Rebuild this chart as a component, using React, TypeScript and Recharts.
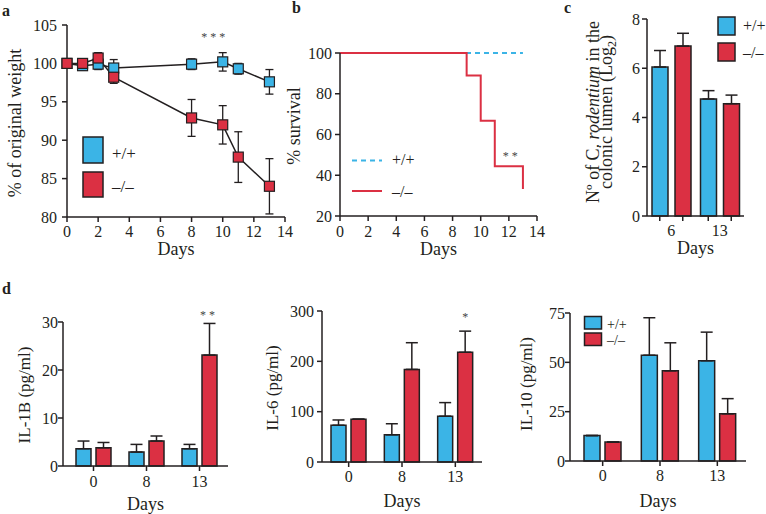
import React from 'react';
import { LineChart, Line, BarChart, Bar, XAxis, YAxis, ErrorBar, ReferenceDot } from 'recharts';

const FONT = '"Liberation Serif", "Times New Roman", serif';
const INK = '#231f20';
const BLUE = '#3bb4e6';
const RED = '#db3043';
const SIG = '#444444';

// ---------- Panel a: body weight ----------
const weightDays = [0, 1, 2, 3, 8, 10, 11, 13];
const weightWT = [100, 99.7, 99.9, 99.4, 99.9, 100.2, 99.3, 97.6];
const weightWTErr = [0.3, 0.6, 0.7, 1.1, 0.7, 1.2, 0.7, 1.6];
const weightKO = [100, 100, 100.7, 98.2, 92.9, 92.0, 87.8, 84.0];
const weightKOErr = [0.3, 0.5, 0.7, 0.8, 2.4, 2.5, 3.3, 3.6];
const weightTicksX = [0, 2, 4, 6, 8, 10, 12, 14];
const weightTicksY = [80, 85, 90, 95, 100, 105];
const weightSig = { day: 9.4, value: 103.7, text: '* * *' };

// ---------- Panel b: survival ----------
const survWTDays = [0, 13];
const survWT = [100, 100];
const survKODays = [0, 9, 10, 11, 13];
const survKO = [100, 88.9, 66.7, 44.4, 33.3];
const survTicksX = [0, 2, 4, 6, 8, 10, 12, 14];
const survTicksY = [20, 40, 60, 80, 100];
const survSig = { day: 12.1, value: 50.4, text: '* *' };

// ---------- Panel c: C. rodentium load ----------
const cDays = ['6', '13'];
const cWT = [6.05, 4.75];
const cWTErr = [0.67, 0.34];
const cKO = [6.9, 4.56];
const cKOErr = [0.52, 0.35];
const cTicksY = [0, 2, 4, 6, 8];

// ---------- Panel d: cytokines ----------
const cytoDays = ['0', '8', '13'];
const il1bWT = [3.6, 2.9, 3.6];
const il1bWTErr = [1.6, 1.6, 0.9];
const il1bKO = [3.8, 5.2, 23.1];
const il1bKOErr = [1.1, 1.05, 6.6];
const il1bTicks = [0, 10, 20, 30];

const il6WT = [73, 54, 91];
const il6WTErr = [10.5, 22, 27];
const il6KO = [85, 184, 218];
const il6KOErr = [0, 53, 42];
const il6Ticks = [0, 100, 200, 300];

const il10WT = [12.9, 53.6, 50.8];
const il10WTErr = [0, 19, 14.5];
const il10KO = [9.6, 45.7, 23.9];
const il10KOErr = [0, 14.2, 7.7];
const il10Ticks = [0, 25, 50, 75];

const axisStyle = (margin: number) => ({
  stroke: INK,
  strokeWidth: 1.5,
  tickSize: 5,
  tickMargin: margin,
  tick: { fill: INK, fontSize: 16, fontFamily: FONT },
  tickLine: { stroke: INK, strokeWidth: 1.5 },
  axisLine: { stroke: INK, strokeWidth: 1.5 },
});

const textStyle = { fontFamily: FONT, fill: INK };

const xLabel = (x: number, y: number) => ({
  content: () => (
    <text x={x} y={y} textAnchor="middle" fontSize={18} style={textStyle}>
      Days
    </text>
  ),
});

const yLabel = (x: number, y: number, txt: string, size = 18) => ({
  content: () => (
    <text x={x} y={y} transform={`rotate(-90 ${x} ${y})`} textAnchor="middle" fontSize={size} style={textStyle}>
      {txt}
    </text>
  ),
});

const squareDot = (fill: string) => (props: any) => {
  const { cx, cy, index } = props;
  if (cx == null || cy == null) return <g key={`e-${index}`} />;
  return (
    <rect key={`sq-${fill}-${index}`} x={cx - 5} y={cy - 5} width={10} height={10} fill={fill} stroke={INK} strokeWidth={1.2} />
  );
};

const sigShape = (text: string, dx: number, size: number) => (p: any) => (
  <text x={p.cx + dx} y={p.cy} dy={size * 0.5} textAnchor="middle" fontSize={size} style={{ fontFamily: FONT, fill: SIG }}>
    {text}
  </text>
);

const weightRows = weightDays.map((d, i) => ({
  day: d,
  wt: weightWT[i],
  wtErr: weightWTErr[i],
  ko: weightKO[i],
  koErr: weightKOErr[i],
}));

function PanelA() {
  return (
    <LineChart width={300} height={265} data={weightRows} margin={{ top: 25, right: 15, bottom: 0, left: 0 }}>
      <XAxis type="number" dataKey="day" domain={[0, 14]} ticks={weightTicksX} interval={0} height={48} {...axisStyle(4)} label={xLabel(176, 255)} />
      <YAxis type="number" domain={[80, 105]} ticks={weightTicksY} interval={0} width={67} {...axisStyle(5)} label={yLabel(21, 123, '% of original weight')} />
      <Line type="linear" dataKey="wt" stroke={INK} strokeWidth={1.5} dot={squareDot(BLUE)} activeDot={false} isAnimationActive={false}>
        <ErrorBar dataKey="wtErr" width={4} stroke={INK} strokeWidth={1.3} direction="y" />
      </Line>
      <Line type="linear" dataKey="ko" stroke={INK} strokeWidth={1.5} dot={squareDot(RED)} activeDot={false} isAnimationActive={false}>
        <ErrorBar dataKey="koErr" width={4} stroke={INK} strokeWidth={1.3} direction="y" />
      </Line>
      <ReferenceDot x={weightSig.day} y={weightSig.value} r={0} ifOverflow="visible" shape={sigShape(weightSig.text, 0, 12)} />
    </LineChart>
  );
}

const survWTRows = survWTDays.map((d, i) => ({ day: d, pct: survWT[i] }));
const survKORows = survKODays.map((d, i) => ({ day: d, pct: survKO[i] }));

function PanelB() {
  return (
    <LineChart width={300} height={265} margin={{ top: 53, right: 18, bottom: 0, left: 0 }}>
      <XAxis type="number" dataKey="day" domain={[0, 14]} ticks={survTicksX} interval={0} height={49} {...axisStyle(5)} label={xLabel(183.5, 255)} />
      <YAxis type="number" domain={[20, 100]} ticks={survTicksY} interval={0} width={85} {...axisStyle(3)} label={yLabel(45, 126, '% survival')} />
      <Line data={survWTRows} type="linear" dataKey="pct" stroke={BLUE} strokeWidth={2} strokeDasharray="5 4" dot={false} activeDot={false} isAnimationActive={false} />
      <Line data={survKORows} type="stepAfter" dataKey="pct" stroke={RED} strokeWidth={2} dot={false} activeDot={false} isAnimationActive={false} />
      <ReferenceDot x={survSig.day} y={survSig.value} r={0} ifOverflow="visible" shape={sigShape(survSig.text, 0, 12)} />
    </LineChart>
  );
}

const cRows = cDays.map((d, i) => ({
  day: d,
  wt: cWT[i],
  wtErr: [0, cWTErr[i]],
  ko: cKO[i],
  koErr: [0, cKOErr[i]],
}));

const CTick = (props: any) => {
  const { x, y, payload } = props;
  return (
    <g>
      <line x1={x - 11.5} x2={x - 11.5} y1={y - 9} y2={y - 4} stroke={INK} strokeWidth={1.5} />
      <line x1={x + 11.5} x2={x + 11.5} y1={y - 9} y2={y - 4} stroke={INK} strokeWidth={1.5} />
      <text x={x} y={y} dy="0.71em" textAnchor="middle" fontSize={16} style={textStyle}>
        {payload.value}
      </text>
    </g>
  );
};

function PanelC() {
  return (
    <BarChart width={221} height={265} data={cRows} barGap={7} margin={{ top: 19, right: 22, bottom: 0, left: 0 }}>
      <XAxis dataKey="day" height={49} {...axisStyle(4)} tickLine={false} tick={<CTick />} interval={0}
        label={xLabel(150.5, 254)} />
      <YAxis type="number" domain={[0, 8]} ticks={cTicksY} interval={0} width={102} {...axisStyle(2)}
        label={{
          content: () => (
            <g>
              <text x={54} y={112} transform="rotate(-90 54 112)" textAnchor="middle" fontSize={18} style={textStyle}>
                {'N\u00BA of C. '}<tspan fontStyle="italic">rodentium</tspan>{' in the'}
              </text>
              <text x={67} y={112} transform="rotate(-90 67 112)" textAnchor="middle" fontSize={18} style={textStyle}>
                {'colonic lumen (Log'}<tspan dy={4} fontSize={12}>2</tspan><tspan dy={-4}>)</tspan>
              </text>
            </g>
          ),
        }} />
      <Bar dataKey="wt" barSize={16} fill={BLUE} stroke={INK} strokeWidth={1.5} isAnimationActive={false}>
        <ErrorBar dataKey="wtErr" width={6} stroke={INK} strokeWidth={1.5} direction="y" />
      </Bar>
      <Bar dataKey="ko" barSize={16} fill={RED} stroke={INK} strokeWidth={1.5} isAnimationActive={false}>
        <ErrorBar dataKey="koErr" width={6} stroke={INK} strokeWidth={1.5} direction="y" />
      </Bar>
    </BarChart>
  );
}

const makeRows = (wt: number[], wtErr: number[], ko: number[], koErr: number[]) =>
  cytoDays.map((d, i) => ({ day: d, wt: wt[i], wtErr: [0, wtErr[i]], ko: ko[i], koErr: [0, koErr[i]] }));

const il1bRows = makeRows(il1bWT, il1bWTErr, il1bKO, il1bKOErr);
const il6Rows = makeRows(il6WT, il6WTErr, il6KO, il6KOErr);
const il10Rows = makeRows(il10WT, il10WTErr, il10KO, il10KOErr);

type CytoProps = {
  rows: any[];
  width: number;
  yMax: number;
  ticks: number[];
  yAxisWidth: number;
  margin: { top: number; right: number; bottom: number; left: number };
  xHeight: number;
  padding: { left: number; right: number };
  yTickMargin: number;
  xTickMargin: number;
  ylab: string;
  ylabX: number;
  ylabY: number;
  daysX: number;
  daysY: number;
  barSize: number;
  sig?: { day: string; value: number; text: string; dx: number };
};

function CytoPanel(p: CytoProps) {
  return (
    <BarChart width={p.width} height={239} data={p.rows} barGap={5} margin={p.margin}>
      <XAxis dataKey="day" height={p.xHeight} padding={p.padding} interval={0} {...axisStyle(p.xTickMargin)} label={xLabel(p.daysX, p.daysY)} />
      <YAxis type="number" domain={[0, p.yMax]} ticks={p.ticks} interval={0} width={p.yAxisWidth} {...axisStyle(p.yTickMargin)} label={yLabel(p.ylabX, p.ylabY, p.ylab, 17)} />
      <Bar dataKey="wt" barSize={p.barSize} fill={BLUE} stroke={INK} strokeWidth={1.5} isAnimationActive={false}>
        <ErrorBar dataKey="wtErr" width={6} stroke={INK} strokeWidth={1.5} direction="y" />
      </Bar>
      <Bar dataKey="ko" barSize={p.barSize} fill={RED} stroke={INK} strokeWidth={1.5} isAnimationActive={false}>
        <ErrorBar dataKey="koErr" width={6} stroke={INK} strokeWidth={1.5} direction="y" />
      </Bar>
      {p.sig && (
        <ReferenceDot x={p.sig.day} y={p.sig.value} r={0} ifOverflow="visible" shape={sigShape(p.sig.text, p.sig.dx, 12)} />
      )}
    </BarChart>
  );
}

function Overlay() {
  const t = { fontFamily: FONT, fill: INK } as const;
  return (
    <svg width={766} height={514} style={{ position: 'absolute', left: 0, top: 0, pointerEvents: 'none' }}>
      <text x={2} y={16} fontSize={16} fontWeight="bold" style={t}>a</text>
      <text x={292} y={13} fontSize={16} fontWeight="bold" style={t}>b</text>
      <text x={564} y={13} fontSize={16} fontWeight="bold" style={t}>c</text>
      <text x={2} y={294} fontSize={16} fontWeight="bold" style={t}>d</text>

      {/* legend a */}
      <rect x={83} y={137} width={20} height={26} fill={BLUE} stroke={INK} strokeWidth={1.5} />
      <text x={112} y={159} fontSize={17} style={t}>+/+</text>
      <rect x={83} y={172} width={20} height={25} fill={RED} stroke={INK} strokeWidth={1.5} />
      <text x={112} y={192} fontSize={17} style={t}>–/–</text>

      {/* legend b */}
      <line x1={352} x2={382} y1={160.5} y2={160.5} stroke={BLUE} strokeWidth={2} strokeDasharray="5 4" />
      <text x={392} y={165} fontSize={16} style={t}>+/+</text>
      <line x1={352} x2={382} y1={191} y2={191} stroke={RED} strokeWidth={2} />
      <text x={392} y={197} fontSize={16} style={t}>–/–</text>

      {/* legend c */}
      <rect x={718} y={17} width={17} height={18} fill={BLUE} stroke={INK} strokeWidth={1.5} />
      <text x={743} y={31} fontSize={16} style={t}>+/+</text>
      <rect x={718} y={43} width={17} height={18} fill={RED} stroke={INK} strokeWidth={1.5} />
      <text x={743} y={58} fontSize={16} style={t}>–/–</text>

      {/* legend d (IL-10) */}
      <rect x={584.5} y={316.5} width={17} height={12.5} fill={BLUE} stroke={INK} strokeWidth={1.5} />
      <text x={607} y={329} fontSize={14} style={t}>+/+</text>
      <rect x={584.5} y={333} width={17} height={12.5} fill={RED} stroke={INK} strokeWidth={1.5} />
      <text x={607} y={345} fontSize={14} style={t}>–/–</text>
    </svg>
  );
}

export default function App() {
  return (
    <div style={{ position: 'absolute', left: 0, top: 0, width: 766, height: 514, background: '#fff', overflow: 'hidden' }}>
      <div style={{ position: 'absolute', left: 0, top: 0 }}>
        <PanelA />
      </div>
      <div style={{ position: 'absolute', left: 255, top: 0 }}>
        <PanelB />
      </div>
      <div style={{ position: 'absolute', left: 545, top: 0 }}>
        <PanelC />
      </div>
      <div style={{ position: 'absolute', left: 0, top: 275 }}>
        <CytoPanel rows={il1bRows} width={240} yMax={30} ticks={il1bTicks} yAxisWidth={63}
          margin={{ top: 47, right: 12, bottom: 0, left: 0 }} xHeight={48} padding={{ left: 4, right: 2 }}
          yTickMargin={0} xTickMargin={5} ylab="IL-1B (pg/ml)" ylabX={30} ylabY={120} daysX={145.5} daysY={235} barSize={15}
          sig={{ day: '13', value: 31.9, text: '* *', dx: 8 }} />
      </div>
      <div style={{ position: 'absolute', left: 255, top: 275 }}>
        <CytoPanel rows={il6Rows} width={240} yMax={300} ticks={il6Ticks} yAxisWidth={67}
          margin={{ top: 36, right: 13, bottom: 0, left: 0 }} xHeight={52} padding={{ left: 0, right: 0 }}
          yTickMargin={3} xTickMargin={4} ylab="IL-6 (pg/ml)" ylabX={23} ylabY={113} daysX={147} daysY={232} barSize={15}
          sig={{ day: '13', value: 291.5, text: '*', dx: 10 }} />
      </div>
      <div style={{ position: 'absolute', left: 510, top: 275 }}>
        <CytoPanel rows={il10Rows} width={256} yMax={75} ticks={il10Ticks} yAxisWidth={60}
          margin={{ top: 38, right: 20, bottom: 0, left: 0 }} xHeight={53} padding={{ left: 4, right: 0 }}
          yTickMargin={0} xTickMargin={4} ylab="IL-10 (pg/ml)" ylabX={22} ylabY={109} daysX={148} daysY={232} barSize={16} />
      </div>
      <Overlay />
    </div>
  );
}
